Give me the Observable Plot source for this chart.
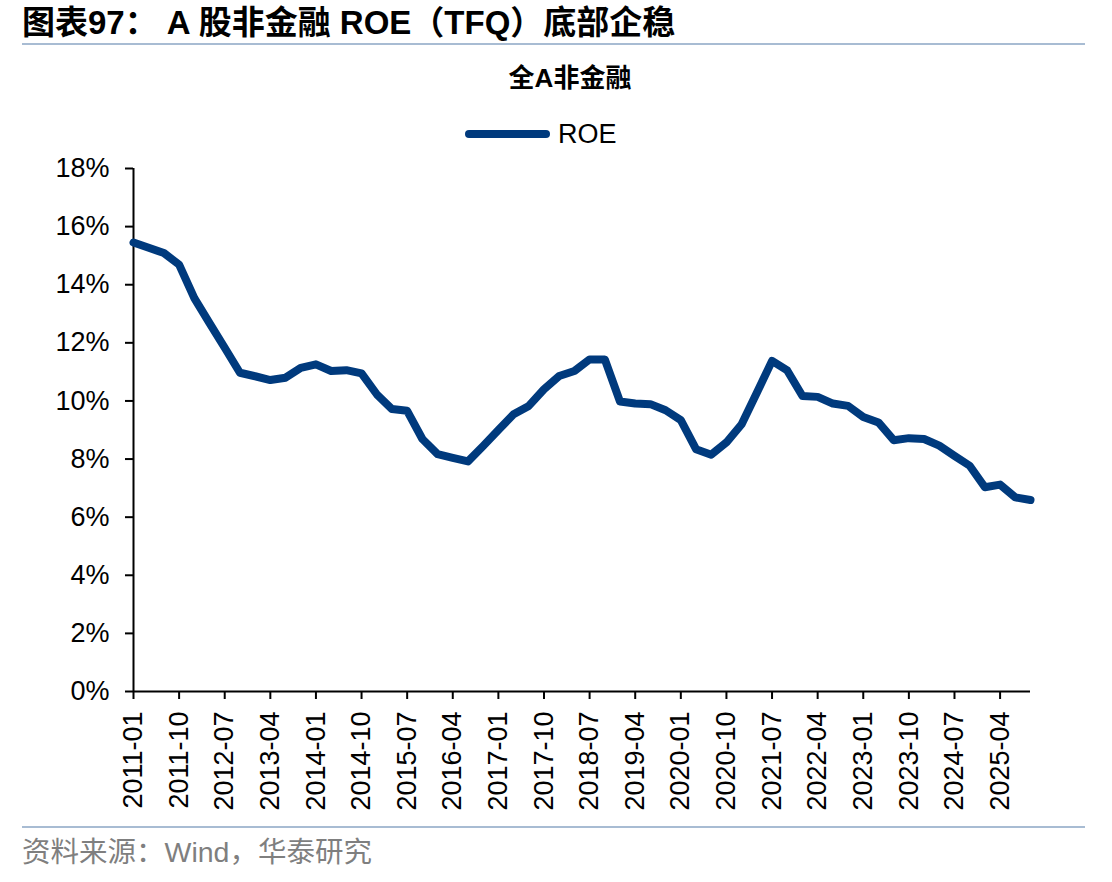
<!DOCTYPE html>
<html>
<head>
<meta charset="utf-8">
<script src="https://cdn.jsdelivr.net/npm/d3@7"></script>
<script src="https://cdn.jsdelivr.net/npm/@observablehq/plot@0.6"></script>
<style>
  body { margin: 0; background: #fff; }
  #wrap { position: relative; width: 1112px; height: 882px; overflow: hidden; background: #fff;
          font-family: "Liberation Sans", "Noto Sans CJK SC", sans-serif; color: #000; }
  #title { position: absolute; left: 22px; top: 2px; font-size: 33px; font-weight: bold; white-space: nowrap; line-height: 42px; }
  .rule { position: absolute; left: 22px; width: 1063px; height: 2px; background: #a8bcd3; }
  #sub { position: absolute; left: 470px; width: 200px; text-align: center; top: 60px; font-size: 26px; font-weight: bold; line-height: 36px; }
  #legend { position: absolute; left: 465px; top: 116px; height: 36px; display: flex; align-items: center; }
  #legend .sw { width: 85px; height: 8px; border-radius: 4px; background: #003a7d; margin-right: 8px; }
  #legend .lb { font-size: 27px; }
  #chart { position: absolute; left: 0; top: 150px; }
  #source { position: absolute; left: 22px; top: 834px; font-size: 28.5px; color: #7f7f7f; white-space: nowrap; line-height: 36px; }
</style>
</head>
<body>
<div id="wrap">
  <div id="title">图表97： A 股非金融 ROE（TFQ）底部企稳</div>
  <div class="rule" style="top:43px"></div>
  <div id="sub">全A非金融</div>
  <div id="legend"><div class="sw"></div><div class="lb">ROE</div></div>
  <div id="chart"></div>
  <div class="rule" style="top:826px"></div>
  <div id="source">资料来源：Wind，华泰研究</div>
</div>
<script>
const quarters = [
  "2011-01","2011-04","2011-07","2011-10",
  "2012-01","2012-04","2012-07","2012-10",
  "2013-01","2013-04","2013-07","2013-10",
  "2014-01","2014-04","2014-07","2014-10",
  "2015-01","2015-04","2015-07","2015-10",
  "2016-01","2016-04","2016-07","2016-10",
  "2017-01","2017-04","2017-07","2017-10",
  "2018-01","2018-04","2018-07","2018-10",
  "2019-01","2019-04","2019-07","2019-10",
  "2020-01","2020-04","2020-07","2020-10",
  "2021-01","2021-04","2021-07","2021-10",
  "2022-01","2022-04","2022-07","2022-10",
  "2023-01","2023-04","2023-07","2023-10",
  "2024-01","2024-04","2024-07","2024-10",
  "2025-01","2025-04","2025-07","2025-10"
];
const roe = [
  15.45, 15.27, 15.09, 14.69,
  13.54, 12.68, 11.83, 10.97,
  10.85, 10.72, 10.80, 11.14,
  11.26, 11.03, 11.06, 10.95,
  10.23, 9.72, 9.66, 8.69,
  8.17, 8.04, 7.92, 8.45,
  9.00, 9.54, 9.83, 10.40,
  10.86, 11.03, 11.43, 11.43,
  9.98, 9.91, 9.89, 9.68,
  9.34, 8.34, 8.15, 8.57,
  9.20, 10.28, 11.38, 11.05,
  10.17, 10.14, 9.91, 9.83,
  9.45, 9.26, 8.65, 8.72,
  8.69, 8.46, 8.11, 7.77,
  7.03, 7.12, 6.68, 6.59
];
const xTickLabels = [
  "2011-01","2011-10","2012-07","2013-04","2014-01","2014-10","2015-07",
  "2016-04","2017-01","2017-10","2018-07","2019-04","2020-01","2020-10",
  "2021-07","2022-04","2023-01","2023-10","2024-07","2025-04"
];
const yTicks = [0, 2, 4, 6, 8, 10, 12, 14, 16, 18];

const rows = quarters.map((q, i) => ({q, v: roe[i]}));

const chart = Plot.plot({
  width: 1112,
  height: 680,
  marginLeft: 133,
  marginRight: 82,
  marginTop: 18,
  marginBottom: 139,
  style: {fontFamily: '"Liberation Sans", Arial, sans-serif', fontSize: "27px", color: "#000", background: "transparent"},
  x: {type: "point", domain: quarters, padding: 0, round: false},
  y: {domain: [0, 18]},
  marks: [
    Plot.axisY({ticks: yTicks, tickFormat: d => d + "%", tickSize: 8, tickPadding: 16, strokeWidth: 2, label: null, fontSize: 27}),
    Plot.axisX({ticks: xTickLabels, tickRotate: -90, tickSize: 8, tickPadding: 12, strokeWidth: 2, label: null, fontSize: 27}),
    Plot.ruleX([quarters[0]], {stroke: "#000", strokeWidth: 2}),
    Plot.ruleY([0], {stroke: "#000", strokeWidth: 2}),
    Plot.line(rows, {x: "q", y: "v", stroke: "#003a7d", strokeWidth: 8, strokeLinejoin: "round"})
  ]
});
document.getElementById("chart").appendChild(chart);
</script>
</body>
</html>
